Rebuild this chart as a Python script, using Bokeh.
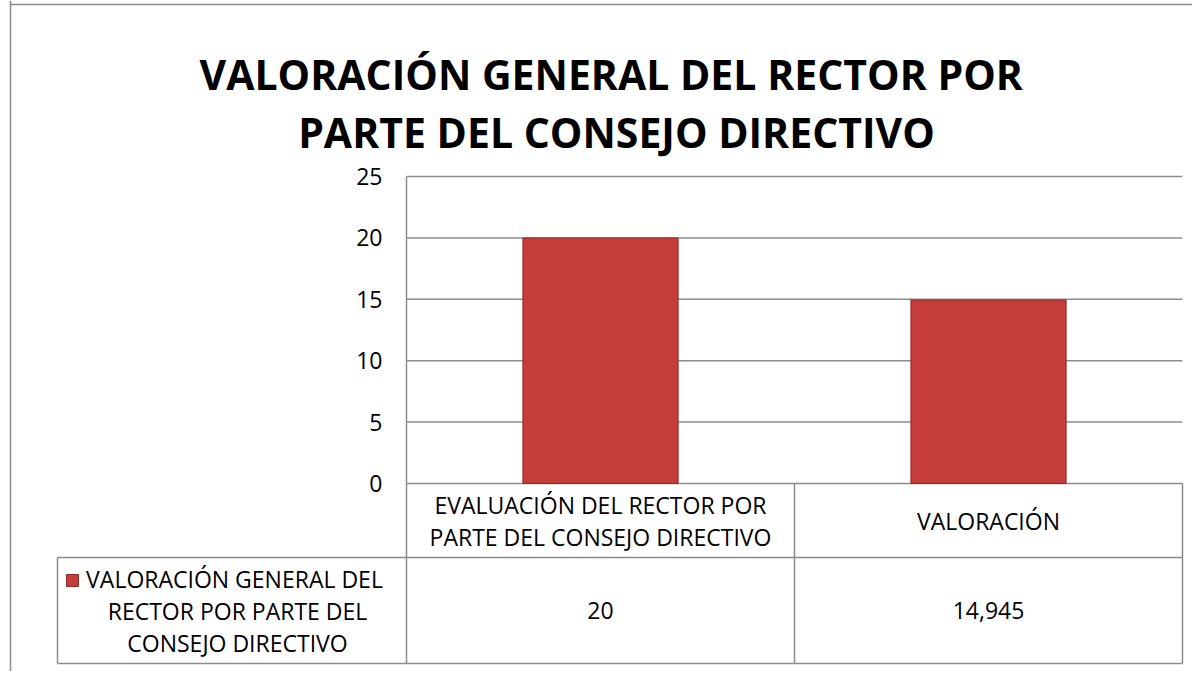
from bokeh.plotting import figure
from bokeh.models import Label, FixedTicker, Range1d, ColumnDataSource
from bokeh.embed import file_html
from bokeh.resources import INLINE
from bokeh.core.properties import value

# ---------------- data ----------------
title_lines = ["VALORACIÓN GENERAL  DEL RECTOR POR", "PARTE DEL CONSEJO DIRECTIVO"]
categories = ["EVALUACIÓN DEL RECTOR POR PARTE DEL CONSEJO DIRECTIVO", "VALORACIÓN"]
category_lines = [["EVALUACIÓN DEL RECTOR POR", "PARTE DEL CONSEJO DIRECTIVO"], ["VALORACIÓN"]]
series_name = "VALORACIÓN GENERAL  DEL RECTOR POR PARTE DEL CONSEJO DIRECTIVO"
series_lines = ["VALORACIÓN GENERAL  DEL", "RECTOR POR PARTE DEL", "CONSEJO DIRECTIVO"]
values = [20, 14.945]
y_ticks = [0, 5, 10, 15, 20, 25]

# ---------------- layout helpers (page pixels -> data units) ----------------
W, H = 1192, 671
OFF = 0
AXIS_PX = 406                # screen x of the value axis
CAT_PX = 388                 # screen width of one category
ZERO_PX = 483                # screen y of value 0
UNIT_PX = 307 / 25           # screen px per value unit


def xd(px):
    return (px - AXIS_PX) / CAT_PX


def yd(py):
    return (ZERO_PX - py) / UNIT_PX


n = len(categories)
X0, X1 = xd(OFF), xd(OFF + W)
Y0, Y1 = yd(OFF + H), yd(OFF)
HEADER_BOTTOM = yd(557)
TABLE_BOTTOM = yd(663)
LEGEND_LEFT = xd(57)
GRID = "#8c8c8c"
FONT = "Open Sans"
TXT_SIZE = "23px"

p = figure(width=W, height=H, x_range=Range1d(X0, X1), y_range=Range1d(Y0, Y1),
           x_axis_location=None, y_axis_location="left",
           toolbar_location=None, output_backend="svg", min_border=0)
p.outline_line_color = None
p.xgrid.visible = False
p.ygrid.visible = False
p.background_fill_color = "white"
p.border_fill_color = "white"

# value axis pinned at the category start
ax = p.yaxis[0]
ax.ticker = FixedTicker(ticks=y_ticks)
ax.fixed_location = 0
ax.bounds = (TABLE_BOTTOM, y_ticks[-1])
ax.axis_line_color = GRID
ax.axis_line_width = 1.5
ax.major_tick_line_color = None
ax.minor_tick_line_color = None
ax.major_label_standoff = 18
ax.major_label_text_font = FONT
ax.major_label_text_font_size = "23px"
ax.major_label_text_color = "#000000"

# horizontal gridlines
p.segment(x0=[0] * len(y_ticks), x1=[n] * len(y_ticks), y0=y_ticks, y1=y_ticks,
          line_color=GRID, line_width=1.5)

# bars
bar_x = [i + 0.5 for i in range(n)]
p.vbar(x=bar_x, top=values, bottom=0, width=0.4,
       fill_color="#c43d3a", line_color="#8e2b29", line_width=1)

# data table lines
p.segment(x0=[LEGEND_LEFT, LEGEND_LEFT], x1=[n, n], y0=[HEADER_BOTTOM, TABLE_BOTTOM],
          y1=[HEADER_BOTTOM, TABLE_BOTTOM], line_color=GRID, line_width=1.5)
vx = list(range(1, n + 1))
p.segment(x0=vx, x1=vx, y0=[0] * n, y1=[TABLE_BOTTOM] * n, line_color=GRID, line_width=1.5)
p.segment(x0=[LEGEND_LEFT], x1=[LEGEND_LEFT], y0=[HEADER_BOTTOM], y1=[TABLE_BOTTOM],
          line_color=GRID, line_width=1.5)

# outer chart border (left and top)
p.segment(x0=[xd(10), xd(10)], x1=[xd(10), X1], y0=[Y0, yd(4)], y1=[Y1, yd(4)],
          line_color=GRID, line_width=1.5)

# header (category) texts
hdr = ColumnDataSource(dict(x=bar_x, y=[(0 + HEADER_BOTTOM) / 2] * n,
                            t=["\n".join(l) for l in category_lines]))
p.text(x="x", y="y", text="t", source=hdr, text_align="center", text_baseline="middle",
       text_font=value(FONT), text_font_size=TXT_SIZE, text_color="#000000",
       text_line_height=1.0)

# values row
val_txt = [f"{v:g}".replace(".", ",") for v in values]
row = ColumnDataSource(dict(x=bar_x, y=[(HEADER_BOTTOM + TABLE_BOTTOM) / 2] * n, t=val_txt))
p.text(x="x", y="y", text="t", source=row, text_align="center", text_baseline="middle",
       text_font=value(FONT), text_font_size=TXT_SIZE, text_color="#000000")

# series (legend) cell
p.text(x=[xd(237)], y=[(HEADER_BOTTOM + TABLE_BOTTOM) / 2], text=["\n".join(series_lines)],
       text_align="center", text_baseline="middle", text_font=value(FONT),
       text_font_size=TXT_SIZE, text_color="#000000", text_line_height=1.0)
p.scatter(x=[xd(72)], y=[yd(580)], marker="square", size=12,
          fill_color="#c43d3a", line_color="#8e2b29")

# title
for line, py in zip(title_lines, [73, 131]):
    p.add_layout(Label(x=xd(616), y=yd(py), text=line, text_align="center",
                       text_baseline="middle", text_font=FONT, text_font_style="bold",
                       text_font_size="41px", text_color="#000000"))

open("out.html", "w").write(file_html(p, INLINE))
